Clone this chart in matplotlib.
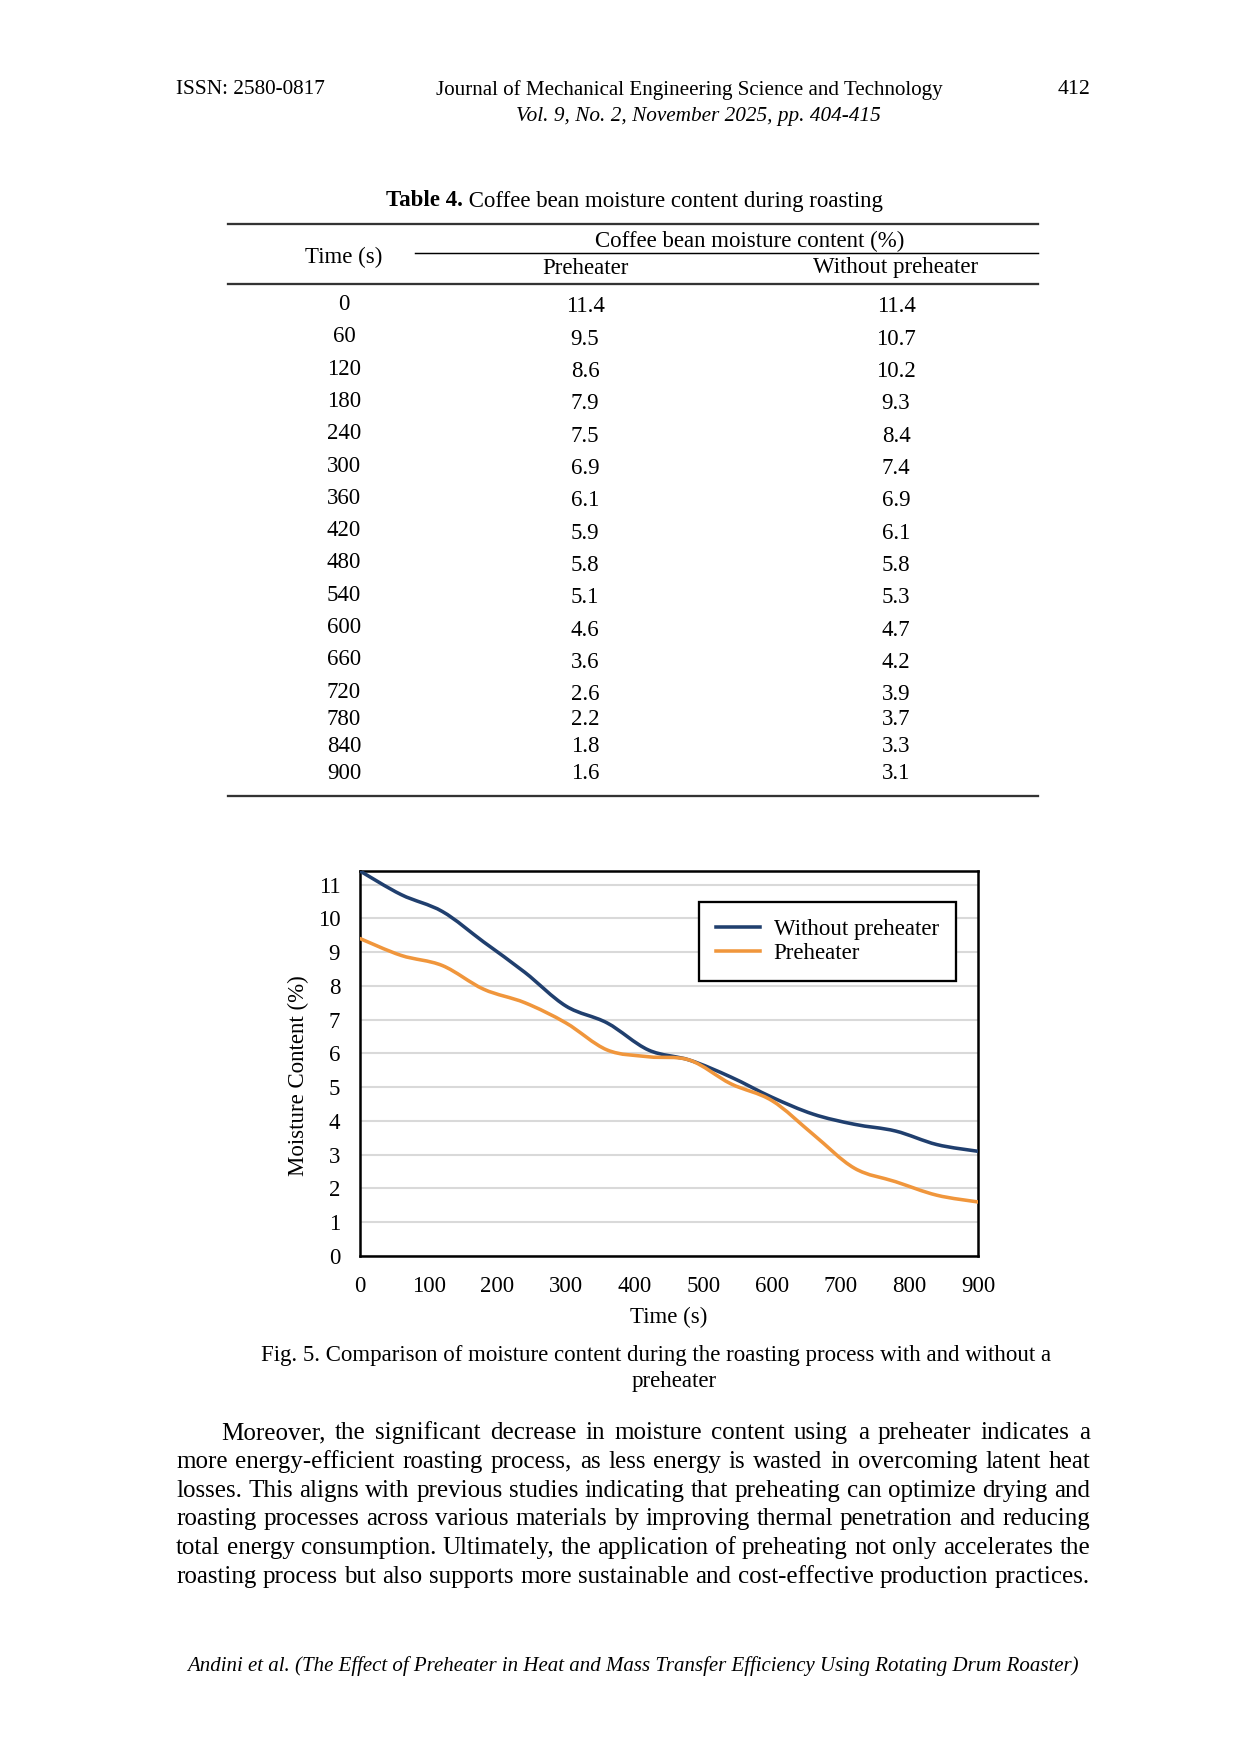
import matplotlib
matplotlib.use("Agg")
import matplotlib.pyplot as plt
from matplotlib.path import Path
from matplotlib.patches import PathPatch
from matplotlib.lines import Line2D

plt.rcParams['font.family'] = ['Liberation Serif', 'DejaVu Serif']

# data (table 4 and fig. 5)
time_s = [0, 60, 120, 180, 240, 300, 360, 420, 480, 540, 600, 660, 720, 780, 840, 900]
table_preheater = [11.4, 9.5, 8.6, 7.9, 7.5, 6.9, 6.1, 5.9, 5.8, 5.1, 4.6, 3.6, 2.6, 2.2, 1.8, 1.6]
table_without = [11.4, 10.7, 10.2, 9.3, 8.4, 7.4, 6.9, 6.1, 5.8, 5.3, 4.7, 4.2, 3.9, 3.7, 3.3, 3.1]
# values as plotted in the figure (preheater curve starts lower than the table)
chart_preheater = [9.4, 8.9, 8.6, 7.9, 7.5, 6.9, 6.1, 5.9, 5.8, 5.1, 4.6, 3.6, 2.6, 2.2, 1.8, 1.6]
chart_without = [11.4, 10.7, 10.2, 9.3, 8.4, 7.4, 6.9, 6.1, 5.8, 5.3, 4.7, 4.2, 3.9, 3.7, 3.3, 3.1]
y_ticks = list(range(0, 12))
x_ticks = list(range(0, 1000, 100))

paragraph = [
    "Moreover, the significant decrease in moisture content using a preheater indicates a",
    "more energy-efficient roasting process, as less energy is wasted in overcoming latent heat",
    "losses. This aligns with previous studies indicating that preheating can optimize drying and",
    "roasting processes across various materials by improving thermal penetration and reducing",
    "total energy consumption. Ultimately, the application of preheating not only accelerates the",
    "roasting process but also supports more sustainable and cost-effective production practices.",
]

BLUE = '#203f6e'
ORANGE = '#f0963c'
W, H, DPI = 1240, 1754, 150

fig = plt.figure(figsize=(W / DPI, H / DPI), dpi=DPI)
page = fig.add_axes([0, 0, 1, 1])
page.set_xlim(0, W)
page.set_ylim(H, 0)
page.axis('off')
renderer = fig.canvas.get_renderer()


def text_width(t):
    return t.get_window_extent(renderer=renderer).width


# page header
page.text(176, 90, "ISSN: 2580-0817", fontsize=10.2, ha='left', va='center')
page.text(689, 90, "Journal of Mechanical Engineering Science and Technology", fontsize=10.1, ha='center', va='center')
page.text(1090, 90, "412", fontsize=10.5, ha='right', va='center')
page.text(698, 116, "Vol. 9, No. 2, November 2025, pp. 404-415", fontsize=10.2, style='italic', ha='center', va='center')

# table caption: bold label + regular text, centred as one
t1 = page.text(0, 201, "Table 4.", fontsize=11, weight='bold', ha='left', va='center')
t2 = page.text(0, 201, " Coffee bean moisture content during roasting", fontsize=11, ha='left', va='center')
w1, w2 = text_width(t1), text_width(t2)
start = 634 - (w1 + w2) / 2
t1.set_x(start)
t2.set_x(start + w1)

# table rules
page.plot([228, 1038], [224, 224], color='#333333', lw=1.1)
page.plot([415, 1038], [253, 253], color='black', lw=0.7)
page.plot([228, 1038], [284, 284], color='#333333', lw=1.1)
page.plot([228, 1038], [796, 796], color='#333333', lw=1.1)

page.text(344, 257, "Time (s)", fontsize=11, ha='center', va='center')
page.text(750, 241, "Coffee bean moisture content (%)", fontsize=11, ha='center', va='center')
page.text(585, 268, "Preheater", fontsize=11, ha='center', va='center')
page.text(896, 268, "Without preheater", fontsize=11, ha='center', va='center')

y = 304.5
for i, t in enumerate(time_s):
    off = 2.5 if i < 13 else 0
    page.text(344, y, f"{t}", fontsize=11, ha='center', va='center')
    page.text(585, y + off, f"{table_preheater[i]}", fontsize=11, ha='center', va='center')
    page.text(896, y + off, f"{table_without[i]}", fontsize=11, ha='center', va='center')
    y += 32.3 if i < 12 else 27

# chart
ax_l, ax_r, ax_t, ax_b = 360, 978, 871, 1256
ax = fig.add_axes([ax_l / W, 1 - ax_b / H, (ax_r - ax_l) / W, (ax_b - ax_t) / H])


def smooth_path(xs, ys):
    pts = list(zip(xs, ys))
    n = len(pts)
    verts = [pts[0]]
    codes = [Path.MOVETO]
    for i in range(n - 1):
        p0 = pts[i - 1] if i > 0 else pts[i]
        p1, p2 = pts[i], pts[i + 1]
        p3 = pts[i + 2] if i + 2 < n else pts[i + 1]
        c1 = (p1[0] + (p2[0] - p0[0]) / 6, p1[1] + (p2[1] - p0[1]) / 6)
        c2 = (p2[0] - (p3[0] - p1[0]) / 6, p2[1] - (p3[1] - p1[1]) / 6)
        verts += [c1, c2, p2]
        codes += [Path.CURVE4] * 3
    return Path(verts, codes)


ax.add_patch(PathPatch(smooth_path(time_s, chart_without), fill=False, edgecolor=BLUE, lw=1.7,
                       capstyle='round', joinstyle='round', zorder=3))
ax.add_patch(PathPatch(smooth_path(time_s, chart_preheater), fill=False, edgecolor=ORANGE, lw=1.7,
                       capstyle='round', joinstyle='round', zorder=3))

ax.set_xlim(0, 900)
ax.set_ylim(0, 11.4)
ax.set_xticks(x_ticks)
ax.set_yticks(y_ticks)
ax.tick_params(length=0, labelsize=11)
ax.tick_params(axis='x', pad=9.5)
ax.tick_params(axis='y', pad=9.5)
ax.yaxis.grid(True, color='#d9d9d9', lw=1.0)
ax.set_axisbelow(True)
for s in ax.spines.values():
    s.set_linewidth(1.2)
    s.set_color('black')
ax.set_xlabel("Time (s)", fontsize=11)
ax.set_ylabel("Moisture Content (%)", fontsize=11)
ax.xaxis.set_label_coords(0.5, -(1307 - ax_b) / (ax_b - ax_t))
ax.yaxis.set_label_coords(-(ax_l - 309) / (ax_r - ax_l), 0.5 - 12 / (ax_b - ax_t))

handles = [Line2D([], [], color=BLUE, lw=1.7), Line2D([], [], color=ORANGE, lw=1.7)]
leg = ax.legend(handles, ["Without preheater", "Preheater"], loc='upper right',
                bbox_to_anchor=((956 - ax_l) / (ax_r - ax_l), (ax_b - 902) / (ax_b - ax_t)),
                fontsize=11, frameon=True, fancybox=False, edgecolor='black', framealpha=1,
                borderpad=0.75, handlelength=1.9, handletextpad=0.6, labelspacing=0.12,
                borderaxespad=0)
leg.get_frame().set_linewidth(1.1)

# figure caption
page.text(656, 1356, "Fig. 5. Comparison of moisture content during the roasting process with and without a",
          fontsize=11, ha='center', va='center')
page.text(674, 1381, "preheater", fontsize=11, ha='center', va='center')

# justified paragraph
x_left, x_right = 176, 1090
for k, line in enumerate(paragraph):
    ly = 1433 + k * 28.8
    x0 = 221 if k == 0 else x_left
    words = [page.text(0, ly, w, fontsize=12, ha='left', va='center') for w in line.split()]
    widths = [text_width(w) for w in words]
    gap = (x_right - x0 - sum(widths)) / (len(words) - 1)
    x = x0
    for w, wd in zip(words, widths):
        w.set_x(x)
        x += wd + gap

# footer
page.text(633, 1666, "Andini et al. (The Effect of Preheater in Heat and Mass Transfer Efficiency Using Rotating Drum Roaster)",
          fontsize=10, style='italic', ha='center', va='center')

fig.savefig("out.png", dpi=DPI)
